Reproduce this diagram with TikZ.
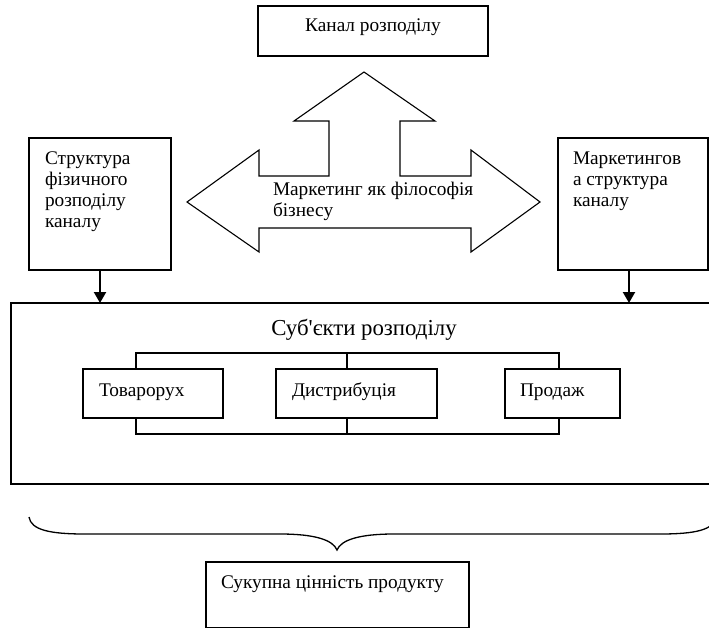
\documentclass[tikz,border=0pt]{standalone}
\usepackage{fontspec}
\setmainfont{Liberation Serif}[Ligatures=TeXOff]
\usetikzlibrary{arrows.meta}
\begin{document}
\begin{tikzpicture}[x=1pt,y=-1pt,
  box/.style={draw=black,line width=1.1pt,inner sep=0pt,outer sep=0pt,anchor=north west},
  txt/.style={inner sep=0pt,outer sep=0pt,align=left,font=\fontsize{19.3pt}{20.8pt}\selectfont},
  titletxt/.style={inner sep=0pt,outer sep=0pt,font=\fontsize{22.8pt}{26pt}\selectfont},
  conn/.style={draw=black,line width=1.1pt},
  downarr/.style={line width=2.2pt,-{Triangle[length=11pt,width=12pt]}},
  bigarrow/.style={draw=black,line width=1.1pt,line join=miter},
  bracestyle/.style={draw=black,line width=1.3pt},
]
\useasboundingbox (0,0) rectangle (709,627);

% top box
\node[box,minimum width=230pt,minimum height=50pt] (top) at (258,6) {};
\node[txt,anchor=base] (toptext) at (373,31) {Канал розподілу};

% three-way arrow
\draw[bigarrow] (364,72) -- (435,121) -- (400,121) -- (400,176) -- (471,176)
  -- (471,150) -- (540,202) -- (471,252) -- (471,228) -- (259,228) -- (259,252)
  -- (187,202) -- (259,150) -- (259,176) -- (329,176) -- (329,121) -- (294,121) -- cycle;
\node[txt,anchor=north west] (philo) at (273,182) {Маркетинг як філософія\\бізнесу};

% side boxes
\node[box,minimum width=142pt,minimum height=132pt] (lbox) at (29,138) {};
\node[txt,anchor=north west] (ltext) at (45,152) {Структура\\фізичного\\розподілу\\каналу};
\node[box,minimum width=150pt,minimum height=132pt] (rbox) at (558,138) {};
\node[txt,anchor=north west] (rtext) at (573,152) {Маркетингов\\а структура\\каналу};

% big box
\node[box,minimum width=704pt,minimum height=181pt] (subj) at (11,303) {};
\node[titletxt,anchor=base] (subjtext) at (364,335) {Суб'єкти розподілу};

% arrows into big box
\draw[downarr] (lbox.south) -- (lbox.south |- subj.north);
\coordinate (ra) at ([xshift=-4pt]rbox.south);
\draw[downarr] (ra) -- (ra |- subj.north);

% inner boxes
\node[box,minimum width=140pt,minimum height=49pt] (b1) at (83,369) {};
\node[txt,anchor=base west] (b1t) at (99,396) {Товарорух};
\node[box,minimum width=161pt,minimum height=49pt] (b2) at (276,369) {};
\node[txt,anchor=base west] (b2t) at (292,396) {Дистрибуція};
\node[box,minimum width=115pt,minimum height=49pt] (b3) at (505,369) {};
\node[txt,anchor=base west] (b3t) at (520,396) {Продаж};

% bracket lines
\coordinate (tl) at (136,353);
\coordinate (tm) at (347,353);
\coordinate (tr) at (559,353);
\coordinate (bl) at (136,434);
\coordinate (bm) at (347,434);
\coordinate (br) at (559,434);
\draw[conn] (tl |- b1.north) -- (tl) -- (tr) -- (tr |- b3.north);
\draw[conn] (tm) -- (tm |- b2.north);
\draw[conn] (bl |- b1.south) -- (bl) -- (br) -- (br |- b3.south);
\draw[conn] (bm) -- (bm |- b2.south);

% brace
\draw[bracestyle] (29,517) .. controls (31,530) and (50,534) .. (85,534) -- (280,534)
  .. controls (315,534) and (333,540) .. (337,550)
  .. controls (341,540) and (359,534) .. (394,534) -- (660,534)
  .. controls (695,534) and (714,530) .. (716,517);

% bottom box
\node[box,minimum width=263pt,minimum height=65.3pt] (val) at (206,562) {};
\node[txt,anchor=base west] (valtext) at (221,588) {Сукупна цінність продукту};
\end{tikzpicture}
\end{document}
